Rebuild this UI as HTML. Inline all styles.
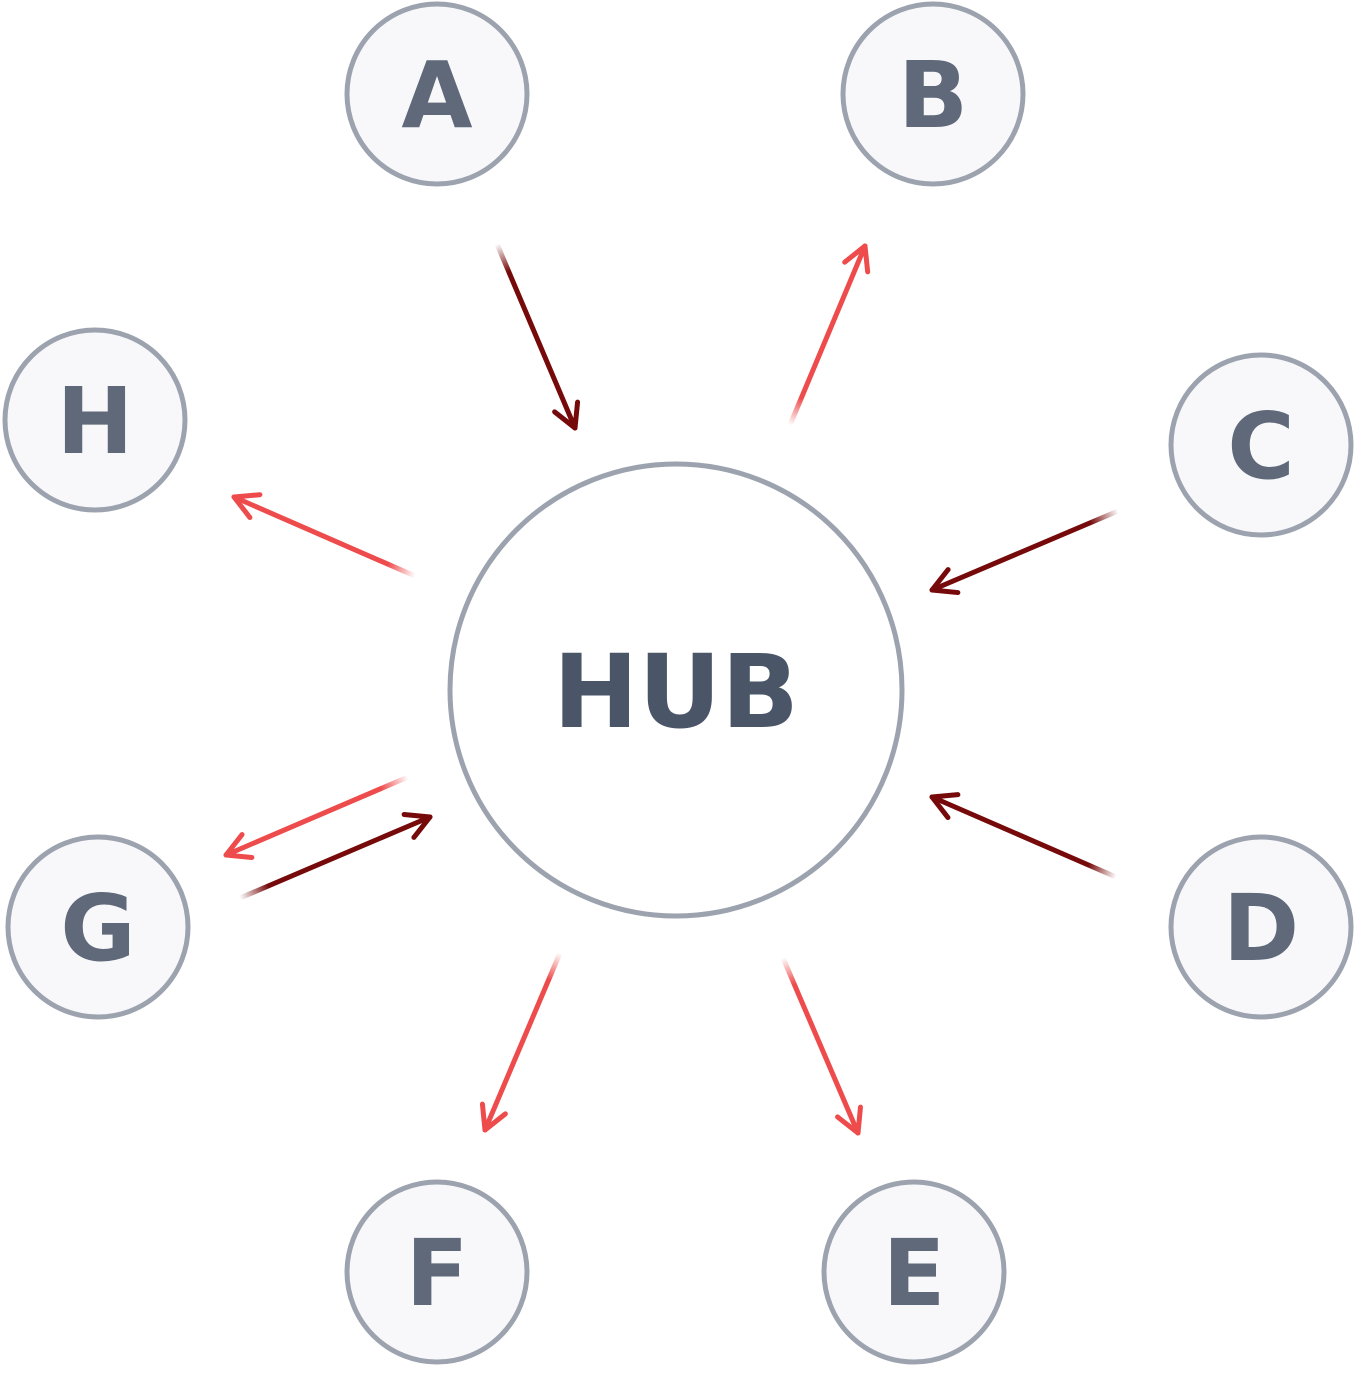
<!DOCTYPE html>
<html><head><meta charset="utf-8"><style>
html,body{margin:0;padding:0;background:#fff;}
svg{display:block;}
text{font-family:"DejaVu Sans","Liberation Sans",sans-serif;font-weight:bold;}
</style></head><body>
<svg id="chart" width="1355" height="1377" viewBox="0 0 1355 1377">
<defs id="defs"></defs>
<g id="edges"></g>
<g id="nodes"></g>
</svg>
<script>
const nodeLabels = ["A","B","C","D","E","F","G","H"];
const nodeX = [437, 933, 1261, 1261, 914, 437, 98, 95];
const nodeY = [94, 94, 445, 927, 1272, 1272, 927, 420];
const edgeX1 = [497, 790, 1118, 1116, 783, 560, 408, 240, 415];
const edgeY1 = [244, 425, 511, 877, 958, 953, 777, 898, 576];
const edgeX2 = [575, 865, 932, 932, 858, 485, 226, 430, 234];
const edgeY2 = [428, 246, 590, 797, 1133, 1130, 855, 817, 497];
const edgeInbound = [true, false, true, true, false, false, false, true, false];
const hub = {x: 676, y: 690, r: 226, label: "HUB"};

const NS = "http://www.w3.org/2000/svg";
const defs = document.getElementById("defs");
const edgesG = document.getElementById("edges");
const nodesG = document.getElementById("nodes");

function mk(tag, attrs, parent){
  const e = document.createElementNS(NS, tag);
  for (const k in attrs) e.setAttribute(k, attrs[k]);
  parent.appendChild(e);
  return e;
}

for (let i = 0; i < edgeX1.length; i++) {
  const x1 = edgeX1[i], y1 = edgeY1[i], x2 = edgeX2[i], y2 = edgeY2[i];
  const col = edgeInbound[i] ? "#760a0a" : "#ee4c4c";
  const g = mk("linearGradient", {id: "grad" + i, gradientUnits: "userSpaceOnUse", x1: x1, y1: y1, x2: x2, y2: y2}, defs);
  mk("stop", {offset: "0", "stop-color": col, "stop-opacity": "0"}, g);
  mk("stop", {offset: "0.15", "stop-color": col, "stop-opacity": "1"}, g);
  mk("stop", {offset: "1", "stop-color": col, "stop-opacity": "1"}, g);
  const grp = mk("g", {}, edgesG);
  
  
  mk("line", {x1: x1, y1: y1, x2: x2, y2: y2, stroke: "url(#grad" + i + ")", "stroke-width": 5, "stroke-linecap": "round"}, grp);
  const a = Math.atan2(y2 - y1, x2 - x1), L = 26, s = 0.5;
  const p1x = x2 - L * Math.cos(a - s), p1y = y2 - L * Math.sin(a - s);
  const p2x = x2 - L * Math.cos(a + s), p2y = y2 - L * Math.sin(a + s);
  const head = mk("polyline", {points: p1x + "," + p1y + " " + x2 + "," + y2 + " " + p2x + "," + p2y, fill: "none", stroke: col, "stroke-width": 5, "stroke-linecap": "round", "stroke-linejoin": "round"}, grp);
  
  
}

const hg = mk("g", {}, nodesG);


mk("circle", {cx: hub.x, cy: hub.y, r: hub.r, fill: "#fff", stroke: "#9ca3af", "stroke-width": 5}, hg);
const ht = mk("text", {x: hub.x, y: hub.y + 37, "text-anchor": "middle", "font-size": 102, fill: "#4a5567"}, hg);
ht.textContent = hub.label;

for (let i = 0; i < nodeLabels.length; i++) {
  const g = mk("g", {}, nodesG);
  
  
  mk("circle", {cx: nodeX[i], cy: nodeY[i], r: 90, fill: "#f8f8fb", stroke: "#9ca3af", "stroke-width": 5}, g);
  const t = mk("text", {x: nodeX[i], y: nodeY[i] + 33, "text-anchor": "middle", "font-size": 92, fill: "#5f6979"}, g);
  t.textContent = nodeLabels[i];
}
</script>
</body></html>
